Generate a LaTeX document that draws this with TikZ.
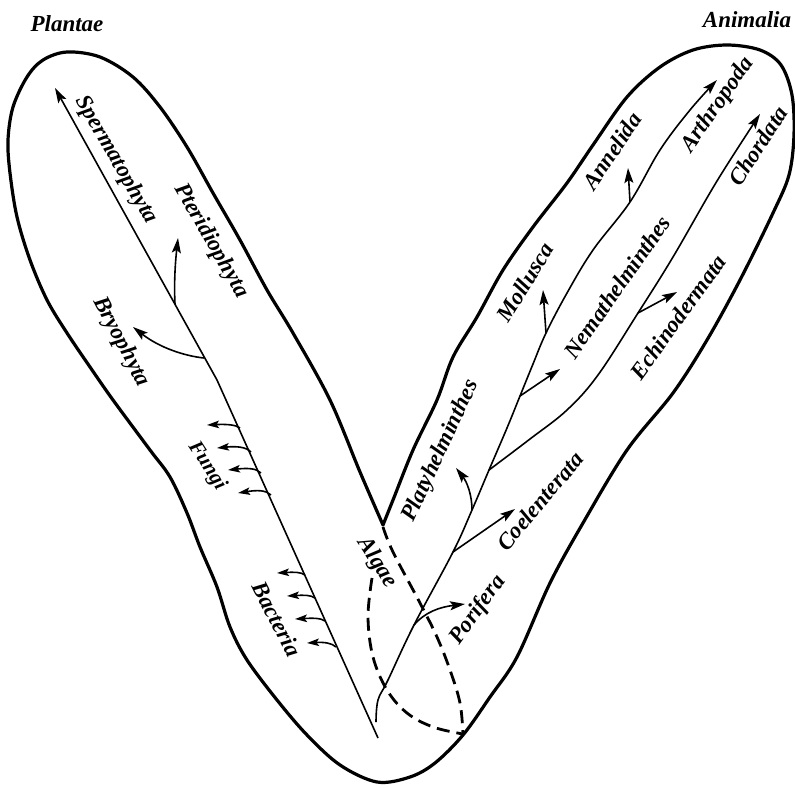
\documentclass[tikz,border=0pt]{standalone}
\usepackage{fontspec}
\setmainfont{Liberation Serif}
\usetikzlibrary{arrows.meta}
\begin{document}
\begin{tikzpicture}[x=1pt,y=-1pt,
  outline/.style={line width=3.2pt, line join=round},
  branch/.style={line width=1.6pt, line join=round},
  arr/.style={-{Stealth[length=15pt,width=9pt,inset=3pt]}},
  sarr/.style={-{Stealth[length=12pt,width=7.5pt,inset=2.5pt]}},
  algae/.style={line width=2.8pt, dash pattern=on 13pt off 7pt},
  lab/.style={font=\fontsize{23}{23}\selectfont\bfseries\itshape, inner sep=0pt},
  slab/.style={font=\fontsize{21}{21}\selectfont\bfseries\itshape, inner sep=0pt},
]
\useasboundingbox (0,0) rectangle (795,787);

% outline
\draw[outline] plot[smooth, tension=0.55] coordinates {
 (383,525) (360,472) (330,400) (293,333) (267,290) (240,240) (213,193) (187,147)
 (160,107) (133,77) (100,57) (67,52) (43,60) (27,77) (13,107) (8,140) (10,173)
 (17,217) (30,260) (47,300) (67,333) (90,367) (113,400) (150,450) (170,477)
 (187,513) (200,547) (217,587) (230,627) (247,660) (277,700) (307,735) (340,765)
 (377,782) (410,777) (435,763) (463,735) (490,697) (517,657) (550,583) (583,523)
 (627,450) (673,393) (707,340) (740,280) (773,213) (789,175) (794,135) (792,95)
 (781,65) (760,50) (727,45) (693,50) (660,67) (627,97) (593,145) (567,183)
 (533,227) (503,270) (477,317) (453,357) (437,400) (413,450) (393,500) (383,525)} -- cycle;

% key points
\coordinate (vertex) at (383,527);
\coordinate (bound) at (463,734);
\coordinate (pbase) at (378,738);
\coordinate (pbend) at (217,380);
\coordinate (sptip) at (55,88);
\coordinate (ptbase) at (175,304);
\coordinate (pttip) at (178,238);
\coordinate (brbase) at (204,358);
\coordinate (brtip) at (133,327);
\coordinate (abase) at (376,722);
\coordinate (poribase) at (414,625);
\coordinate (poritip) at (465,604);
\coordinate (coelbase) at (453,552);
\coordinate (coeltip) at (515,509);
\coordinate (platbase) at (472,510);
\coordinate (plattip) at (456,468);
\coordinate (fork) at (489,470);
\coordinate (nemabase) at (520,396);
\coordinate (nematip) at (560,369);
\coordinate (mollbase) at (546,333);
\coordinate (molltip) at (543,290);
\coordinate (annbase) at (630,202);
\coordinate (anntip) at (628,168);
\coordinate (arthtip) at (717,80);
\coordinate (echbase) at (638,313);
\coordinate (echtip) at (677,292);
\coordinate (chtip) at (760,114);
\coordinate (algA) at (372,578);

% plant tree
\draw[branch, arr] (pbase) -- (pbend) -- (sptip);
\draw[branch, arr] (ptbase) .. controls (174,285) and (175,265) .. (pttip);
\draw[branch, arr] (brbase) .. controls (185,356) and (160,348) .. (brtip);
% fungi
\coordinate (f1) at (240,428); \coordinate (f1t) at (207,425);
\coordinate (f2) at (251,452); \coordinate (f2t) at (217,448);
\coordinate (f3) at (261,473); \coordinate (f3t) at (228,470);
\coordinate (f4) at (271,495); \coordinate (f4t) at (238,493);
\draw[branch, sarr] (f1) .. controls (236,425) and (228,424) .. (f1t);
\draw[branch, sarr] (f2) .. controls (246,447) and (237,446) .. (f2t);
\draw[branch, sarr] (f3) .. controls (256,468) and (247,468) .. (f3t);
\draw[branch, sarr] (f4) .. controls (266,490) and (257,490) .. (f4t);
% bacteria
\coordinate (b1) at (305,575); \coordinate (b1t) at (277,573);
\coordinate (b2) at (315,598); \coordinate (b2t) at (287,596);
\coordinate (b3) at (325,621); \coordinate (b3t) at (295,619);
\coordinate (b4) at (336,647); \coordinate (b4t) at (307,643);
\draw[branch, sarr] (b1) .. controls (301,572) and (294,572) .. (b1t);
\draw[branch, sarr] (b2) .. controls (311,595) and (304,595) .. (b2t);
\draw[branch, sarr] (b3) .. controls (321,618) and (313,618) .. (b3t);
\draw[branch, sarr] (b4) .. controls (332,643) and (324,642) .. (b4t);

% animal tree
\draw[branch, arr] plot[smooth, tension=0.6] coordinates {
 (abase) (378,700) (388,680) (poribase) (coelbase) (platbase) (fork) (507,428)
 (nemabase) (533,364) (mollbase) (567,293) (593,250) (annbase) (660,150) (690,110) (arthtip)};
\draw[branch, arr] plot[smooth, tension=0.6] coordinates {
 (fork) (530,439) (567,410) (598,375) (echbase) (673,257) (717,181) (chtip)};
\draw[branch, arr] (poribase) .. controls (425,612) and (440,607) .. (poritip);
\draw[branch, arr] (coelbase) -- (coeltip);
\draw[branch, arr] (platbase) .. controls (472,495) and (467,482) .. (plattip);
\draw[branch, arr] (nemabase) -- (nematip);
\draw[branch, arr] (mollbase) -- (molltip);
\draw[branch, arr] (annbase) -- (anntip);
\draw[branch, arr] (echbase) -- (echtip);

% algae dashed
\draw[algae] plot[smooth, tension=0.6] coordinates {
 (algA) (368,617) (373,657) (387,690) (407,713) (433,727) (bound)};
\draw[algae] plot[smooth, tension=0.6] coordinates {
 (vertex) (393,552) (420,603) (437,637) (450,670) (460,703) (bound)};

% labels
\node[lab] (plantae) at (67,24) {Plantae};
\node[lab] (animalia) at (747,20) {Animalia};
\node[lab, rotate=-60] (sperm) at (116,160) {Spermatophyta};
\node[lab, rotate=-60] (pter) at (211,241) {Pteridiophyta};
\node[lab, rotate=-62] (bryo) at (121,342) {Bryophyta};
\node[slab, rotate=-57] (fungi) at (207,466) {Fungi};
\node[lab, rotate=-63] (bact) at (277,619) {Bacteria};
\node[lab, rotate=-57] (algae) at (377,563) {Algae};
\node[lab, rotate=65] (platy) at (441,451) {Platyhelminthes};
\node[lab, rotate=50] (coel) at (540,501) {Coelenterata};
\node[lab, rotate=54] (pori) at (478,610) {Porifera};
\node[lab, rotate=58] (moll) at (525,282) {Mollusca};
\node[lab, rotate=55] (nema) at (617,287) {Nemathelminthes};
\node[lab, rotate=56] (anne) at (612,151) {Annelida};
\node[lab, rotate=55] (arth) at (718,105) {Arthropoda};
\node[lab, rotate=57] (chor) at (758,146) {Chordata};
\node[lab, rotate=54] (echi) at (678,317) {Echinodermata};
\end{tikzpicture}
\end{document}
